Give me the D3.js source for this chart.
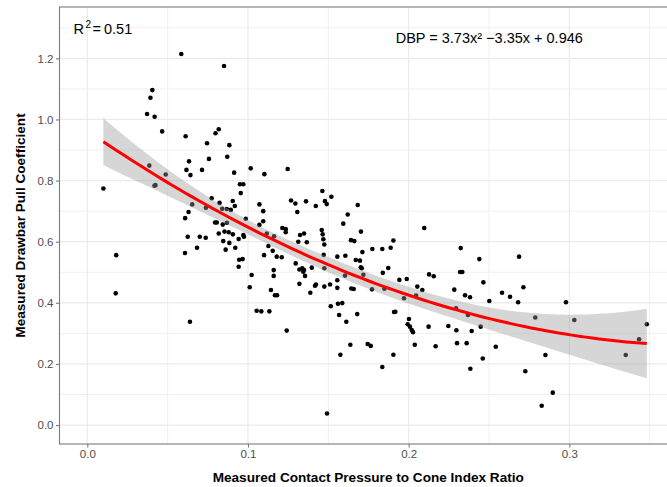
<!DOCTYPE html>
<html>
<head>
<meta charset="utf-8">
<script src="https://cdn.jsdelivr.net/npm/d3@7"></script>
<style>
  body { margin: 0; background: #fff; }
  svg { display: block; font-family: "Liberation Sans", Arial, sans-serif; }
</style>
</head>
<body>
<svg id="chart" width="667" height="487"></svg>
<script>
// measured contact pressure / cone index ratio
const contactRatio = [
  0.0100,0.0180,0.0177,0.0585,0.0851,0.0405,0.0393,0.0372,0.0419,0.0466,0.0612,0.0818,0.0798,0.0745,0.0884,
  0.0871,0.0757,0.0633,0.0386,0.0488,0.0424,0.0418,0.0617,0.0642,0.0714,0.0914,0.0774,0.0823,0.0905,0.0918,
  0.0653,0.0738,0.0840,0.0868,0.0893,0.0630,0.0609,0.0795,0.0806,0.0843,0.0869,0.0818,0.0854,0.0880,0.0906,
  0.0625,0.0700,0.0737,0.0846,0.0884,0.0942,0.0608,0.0683,0.0861,0.0921,0.0945,0.0942,0.0639,
  0.1017,0.1247,0.1102,0.0950,0.0971,0.0955,0.1071,0.1095,0.1268,0.1295,0.1361,0.1307,0.1422,0.1463,0.1479,
  0.1490,0.1519,0.0986,0.1095,0.1071,0.1214,0.1235,0.1235,0.1117,0.1162,0.0971,0.0975,0.1324,0.1349,0.1313,
  0.1366,0.1459,0.1465,0.1469,0.1475,0.1127,0.1154,0.1100,0.1179,0.1210,0.0967,0.1297,0.1320,0.1338,0.1349,
  0.1344,0.1397,0.1471,0.1475,0.1160,0.1160,0.1355,0.1023,0.1011,0.1320,0.1417,0.1423,0.1475,0.1511,0.1143,
  0.1168,0.1181,0.1388,0.1515,0.1054,0.1083,0.1133,0.1241,0.1492,
  0.1683,0.1621,0.1593,0.1703,0.1641,0.1662,0.1905,0.2097,0.1774,0.1836,0.1888,0.1712,0.1556,0.1606,0.1671,
  0.1697,0.1702,0.1708,0.1839,0.1873,0.1604,0.1718,0.1556,0.1556,0.1643,0.1658,0.1772,0.1849,0.1942,0.1988,
  0.2054,0.2085,0.2127,0.2156,0.1971,0.2046,0.1560,0.1587,0.1567,0.1680,0.1909,0.1917,0.1612,0.2002,0.1994,
  0.2008,0.2019,0.2027,0.2124,0.1637,0.1745,0.1764,0.2038,0.1575,0.1905,0.1836,0.2168,
  0.2247,0.2324,0.2440,0.2687,0.2320,0.2334,0.2465,0.2284,0.2714,0.2351,0.2382,0.2581,0.2631,0.2502,0.2681,
  0.2979,0.2295,0.2369,0.2788,0.3031,0.3482,0.2448,0.2297,0.2392,0.2301,0.2361,0.2542,0.2461,0.2384,0.2726,
  0.2851,0.2897,0.2828,0.3434,0.3351
];

// measured drawbar pull coefficient
const drawbarPull = [
  0.774,0.556,0.431,1.214,1.175,1.096,1.071,1.018,1.009,0.961,0.945,0.968,0.955,0.922,0.916,
  0.878,0.871,0.863,0.849,0.820,0.785,0.783,0.835,0.818,0.835,0.826,0.742,0.727,0.733,0.717,
  0.722,0.711,0.708,0.707,0.704,0.697,0.677,0.663,0.663,0.656,0.662,0.627,0.633,0.631,0.624,
  0.616,0.616,0.613,0.602,0.596,0.609,0.563,0.580,0.574,0.580,0.541,0.518,0.338,
  0.840,0.838,0.821,0.788,0.788,0.759,0.722,0.700,0.735,0.725,0.732,0.697,0.717,0.766,0.733,
  0.723,0.747,0.675,0.667,0.655,0.645,0.641,0.631,0.627,0.618,0.622,0.616,0.622,0.627,0.600,
  0.598,0.638,0.624,0.608,0.591,0.586,0.570,0.556,0.551,0.549,0.543,0.529,0.509,0.513,0.507,
  0.502,0.515,0.557,0.513,0.507,0.488,0.488,0.491,0.451,0.462,0.456,0.460,0.453,0.460,0.442,
  0.425,0.425,0.433,0.389,0.374,0.372,0.372,0.309,0.038,
  0.720,0.689,0.659,0.633,0.605,0.602,0.604,0.645,0.576,0.576,0.580,0.566,0.551,0.554,0.540,
  0.538,0.516,0.513,0.498,0.514,0.489,0.492,0.474,0.449,0.447,0.445,0.444,0.446,0.475,0.478,
  0.453,0.442,0.493,0.487,0.415,0.424,0.397,0.399,0.360,0.363,0.370,0.371,0.338,0.347,0.330,
  0.322,0.311,0.304,0.322,0.263,0.265,0.259,0.263,0.230,0.230,0.190,0.258,
  0.324,0.579,0.543,0.551,0.501,0.501,0.467,0.443,0.451,0.425,0.418,0.433,0.420,0.406,0.402,
  0.402,0.382,0.360,0.352,0.344,0.330,0.322,0.310,0.308,0.268,0.268,0.256,0.218,0.184,0.176,
  0.229,0.106,0.063,0.281,0.229
];

const xTicks = [0, 0.1, 0.2, 0.3];
const yTicks = [0, 0.2, 0.4, 0.6, 0.8, 1.0, 1.2];
const xMinor = [0.05, 0.15, 0.25, 0.35];
const yMinor = [0.1, 0.3, 0.5, 0.7, 0.9, 1.1, 1.3];

const xTitle = "Measured Contact Pressure to Cone Index Ratio";
const yTitle = "Measured Drawbar Pull Coefficient";
const rsqLabel = "0.51";
const eqLabel = ["DBP = 3.73x", "\u00B2", " \u22123.35x + 0.946"];

// quadratic least squares with 95% confidence band (like geom_smooth lm y ~ poly(x, 2))
const quadFit = (xs, ys) => {
  const n = xs.length;
  const S = [[0,0,0],[0,0,0],[0,0,0]];
  const b = [0,0,0];
  xs.forEach((x, i) => {
    const v = [1, x, x * x];
    for (let r = 0; r < 3; r++) {
      b[r] += v[r] * ys[i];
      for (let c = 0; c < 3; c++) S[r][c] += v[r] * v[c];
    }
  });
  // invert 3x3
  const [a, bb, c] = S[0], [d, e, f] = S[1], [g, h, k] = S[2];
  const det = a*(e*k - f*h) - bb*(d*k - f*g) + c*(d*h - e*g);
  const inv = [
    [(e*k - f*h)/det, (c*h - bb*k)/det, (bb*f - c*e)/det],
    [(f*g - d*k)/det, (a*k - c*g)/det, (c*d - a*f)/det],
    [(d*h - e*g)/det, (bb*g - a*h)/det, (a*e - bb*d)/det]
  ];
  const beta = inv.map(row => row[0]*b[0] + row[1]*b[1] + row[2]*b[2]);
  const pred = x => beta[0] + beta[1]*x + beta[2]*x*x;
  const rss = d3.sum(xs, (x, i) => (ys[i] - pred(x)) ** 2);
  const s2 = rss / (n - 3);
  const t = 1.97;
  const [lo, hi] = d3.extent(xs);
  return d3.range(81).map(j => {
    const x = lo + (hi - lo) * j / 80;
    const v = [1, x, x * x];
    let q = 0;
    for (let r = 0; r < 3; r++) for (let cc = 0; cc < 3; cc++) q += v[r] * inv[r][cc] * v[cc];
    const se = Math.sqrt(s2 * q);
    const yhat = pred(x);
    return { x, y: yhat, lo: yhat - t * se, hi: yhat + t * se };
  });
};

const svg = d3.select("#chart");
const pLeft = 59.5, pRight = 677, pTop = 7, pBottom = 444;

const x = d3.scaleLinear().domain([-0.0173, 0.367]).range([pLeft, pRight]);
const y = d3.scaleLinear().domain([-0.062, 1.368]).range([pBottom, pTop]);

// grid
const grid = svg.append("g");
grid.selectAll(".vminor").data(xMinor).join("line")
  .attr("x1", d => x(d)).attr("x2", d => x(d)).attr("y1", pTop).attr("y2", pBottom)
  .attr("stroke", "#f0f0f0").attr("stroke-width", 1);
grid.selectAll(".hminor").data(yMinor).join("line")
  .attr("x1", pLeft).attr("x2", pRight).attr("y1", d => y(d)).attr("y2", d => y(d))
  .attr("stroke", "#f0f0f0").attr("stroke-width", 1);
grid.selectAll(".vmajor").data(xTicks).join("line")
  .attr("x1", d => x(d)).attr("x2", d => x(d)).attr("y1", pTop).attr("y2", pBottom)
  .attr("stroke", "#ebebeb").attr("stroke-width", 1.2);
grid.selectAll(".hmajor").data(yTicks).join("line")
  .attr("x1", pLeft).attr("x2", pRight).attr("y1", d => y(d)).attr("y2", d => y(d))
  .attr("stroke", "#ebebeb").attr("stroke-width", 1.2);

// points
svg.append("g")
  .selectAll("circle")
  .data(contactRatio.map((d, i) => [d, drawbarPull[i]]))
  .join("circle")
    .attr("cx", d => x(d[0]))
    .attr("cy", d => y(d[1]))
    .attr("r", 2.3)
    .attr("fill", "#000");

// smooth
const fit = quadFit(contactRatio, drawbarPull);
svg.append("path")
  .datum(fit)
  .attr("fill", "#999999")
  .attr("fill-opacity", 0.4)
  .attr("d", d3.area().x(d => x(d.x)).y0(d => y(d.lo)).y1(d => y(d.hi)));
svg.append("path")
  .datum(fit)
  .attr("fill", "none")
  .attr("stroke", "#ff0000")
  .attr("stroke-width", 3)
  .attr("d", d3.line().x(d => x(d.x)).y(d => y(d.y)));

// panel border
svg.append("rect")
  .attr("x", pLeft).attr("y", pTop)
  .attr("width", pRight - pLeft).attr("height", pBottom - pTop)
  .attr("fill", "none").attr("stroke", "#7a7a7a").attr("stroke-width", 1.1);

// axes
const yAxis = svg.append("g")
  .attr("transform", `translate(${pLeft},0)`)
  .call(d3.axisLeft(y).tickValues(yTicks).tickFormat(d3.format(".1f")).tickSize(3.5).tickPadding(2.5));
const xAxis = svg.append("g")
  .attr("transform", `translate(0,${pBottom})`)
  .call(d3.axisBottom(x).tickValues(xTicks).tickFormat(d3.format(".1f")).tickSize(3.5).tickPadding(2.5));
[xAxis, yAxis].forEach(g => {
  g.select(".domain").remove();
  g.selectAll(".tick line").attr("stroke", "#7a7a7a").attr("stroke-width", 1.1);
  g.selectAll(".tick text").attr("fill", "#4d4d4d").attr("font-size", 11.5)
    .attr("font-family", "Liberation Sans, Arial, sans-serif");
});

// titles
svg.append("text")
  .attr("x", (pLeft + pRight) / 2).attr("y", 481.5)
  .attr("text-anchor", "middle")
  .attr("font-size", 13.6).attr("font-weight", "bold")
  .text(xTitle);
svg.append("text")
  .attr("transform", `translate(25,${(pTop + pBottom) / 2}) rotate(-90)`)
  .attr("text-anchor", "middle")
  .attr("font-size", 13.6).attr("font-weight", "bold")
  .text(yTitle);

// annotations
const r2 = svg.append("text").attr("x", 73.5).attr("y", 34.3).attr("font-size", 14.5).attr("fill", "#000");
r2.append("tspan").text("R");
r2.append("tspan").attr("dy", -6).attr("dx", 1.5).attr("font-size", 10).text("2");
r2.append("tspan").attr("dy", 6).attr("dx", 1.5).text("=");
r2.append("tspan").attr("dx", 3).text(rsqLabel);

svg.append("text")
  .attr("x", 395.7).attr("y", 43.3)
  .attr("font-size", 14.5).attr("fill", "#000")
  .text(eqLabel.join(""));
</script>
</body>
</html>
